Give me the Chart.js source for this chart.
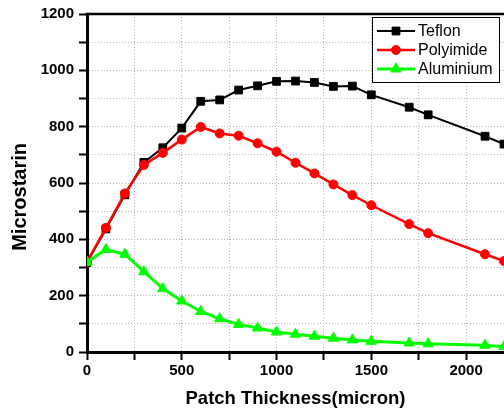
<!DOCTYPE html>
<html>
<head>
<meta charset="utf-8">
<script src="https://cdn.jsdelivr.net/npm/chart.js"></script>
<style>
  html, body { margin: 0; padding: 0; background: #fff; }
  #wrap { width: 504px; height: 414px; position: relative; }
</style>
</head>
<body>
<div id="wrap"><canvas id="chart"></canvas></div>
<script>
// dati
const thickness = [0, 100, 200, 300, 400, 500, 600, 700, 800, 900, 1000, 1100, 1200, 1300, 1400, 1500, 1700, 1800, 2100, 2200];
const teflon = [318, 437, 558, 673, 725, 795, 890, 895, 930, 945, 961, 962, 957, 943, 944, 913, 869, 842, 766, 738];
const polyimide = [320, 441, 563, 664, 707, 754, 799, 776, 768, 741, 711, 672, 634, 595, 557, 521, 454, 422, 347, 323];
const aluminium = [319, 364, 347, 285, 225, 181, 144, 118, 98, 85, 71, 63, 56, 49, 43, 38, 32, 29, 24, 19];

// tacche: etichetta solo sulle principali
const xTickValues = [0, 250, 500, 750, 1000, 1250, 1500, 1750, 2000];
const xTickLabels = ['0', '', '500', '', '1000', '', '1500', '', '2000'];
const yTickValues = [0, 100, 200, 300, 400, 500, 600, 700, 800, 900, 1000, 1100, 1200];
const yTickLabels = ['0', '', '200', '', '400', '', '600', '', '800', '', '1000', '', '1200'];

const toPoints = arr => arr.map((v, i) => ({ x: thickness[i], y: v }));

const FONT = '"Liberation Sans", Arial, sans-serif';

// cornice superiore del riquadro
const framePlugin = {
  id: 'frame',
  afterDraw(chart) {
    const { ctx, chartArea } = chart;
    ctx.save();
    ctx.strokeStyle = '#000';
    ctx.lineWidth = 2.5;
    ctx.beginPath();
    ctx.moveTo(chartArea.left - 1.5, chartArea.top);
    ctx.lineTo(chart.width, chartArea.top);
    ctx.stroke();
    ctx.restore();
  }
};

// legenda con linea + marker, come nell'originale
const drawPoint = Chart.helpers.drawPoint;
const legendPlugin = {
  id: 'lineLegend',
  afterDraw(chart) {
    const { ctx } = chart;
    const box = { x: 372.5, y: 17.5, w: 127, h: 65 };
    ctx.save();
    ctx.fillStyle = '#fff';
    ctx.fillRect(box.x, box.y, box.w, box.h);
    ctx.strokeStyle = '#000';
    ctx.lineWidth = 1;
    ctx.strokeRect(box.x, box.y, box.w, box.h);
    chart.data.datasets.forEach((ds, i) => {
      const y = 31 + i * 19;
      ctx.save();
      ctx.strokeStyle = ds.borderColor;
      ctx.lineWidth = ds.borderWidth;
      ctx.beginPath();
      ctx.moveTo(377, y);
      ctx.lineTo(415, y);
      ctx.stroke();
      ctx.fillStyle = ds.pointBackgroundColor;
      ctx.strokeStyle = ds.pointBorderColor;
      ctx.lineWidth = 1;
      drawPoint(ctx, { pointStyle: ds.pointStyle, radius: ds.pointRadius, borderWidth: 1, rotation: 0 }, 396, y);
      ctx.fillStyle = '#000';
      ctx.font = '16px ' + FONT;
      ctx.textBaseline = 'middle';
      ctx.textAlign = 'left';
      ctx.fillText(ds.label, 418, y + 1);
      ctx.restore();
    });
    ctx.restore();
  }
};

new Chart(document.getElementById('chart'), {
  type: 'line',
  data: {
    datasets: [
      {
        label: 'Teflon',
        data: toPoints(teflon),
        borderColor: '#000000',
        backgroundColor: '#000000',
        pointBackgroundColor: '#000000',
        pointBorderColor: '#000000',
        borderWidth: 2,
        pointStyle: 'rect',
        pointRadius: 5.5,
        pointBorderWidth: 1,
        order: 3
      },
      {
        label: 'Polyimide',
        data: toPoints(polyimide),
        borderColor: '#ff0000',
        backgroundColor: '#ff0000',
        pointBackgroundColor: '#ff0000',
        pointBorderColor: '#ff0000',
        borderWidth: 2.5,
        pointStyle: 'circle',
        pointRadius: 4.5,
        pointBorderWidth: 1,
        order: 2
      },
      {
        label: 'Aluminium',
        data: toPoints(aluminium),
        borderColor: '#00ff00',
        backgroundColor: '#00ff00',
        pointBackgroundColor: '#00ff00',
        pointBorderColor: '#00ff00',
        borderWidth: 3,
        pointStyle: 'triangle',
        pointRadius: 6,
        pointBorderWidth: 1,
        order: 1
      }
    ]
  },
  options: {
    responsive: true,
    maintainAspectRatio: false,
    animation: false,
    layout: { autoPadding: false, padding: { top: 13, right: 0, left: 0, bottom: 0 } },
    plugins: {
      legend: { display: false },
      tooltip: { enabled: false }
    },
    elements: { line: { tension: 0 } },
    scales: {
      x: {
        type: 'linear',
        min: 0,
        max: 2200,
        afterBuildTicks: s => { s.ticks = xTickValues.map(v => ({ value: v })); },
        afterFit: s => { s.height = 62; s.paddingRight = 0; },
        grid: {
          color: '#b4b4b4',
          lineWidth: 1,
          tickColor: '#000',
          tickWidth: 2,
          tickLength: 8
        },
        border: { color: '#000', width: 3, dash: [1, 2] },
        ticks: {
          autoSkip: false,
          maxRotation: 0,
          padding: 2,
          color: '#000',
          font: { family: FONT, size: 15, weight: 'bold' },
          callback: (v, i) => xTickLabels[i]
        },
        title: {
          display: true,
          text: 'Patch Thickness(micron)',
          color: '#000',
          font: { family: FONT, size: 18.5, weight: 'bold' },
          padding: { top: 0, bottom: 4 }
        }
      },
      y: {
        min: 0,
        max: 1200,
        afterBuildTicks: s => { s.ticks = yTickValues.map(v => ({ value: v })); },
        afterFit: s => { s.width = 87; },
        grid: {
          color: '#b4b4b4',
          lineWidth: 1,
          tickColor: '#000',
          tickWidth: 2,
          tickLength: 8
        },
        border: { color: '#000', width: 3, dash: [1, 2] },
        ticks: {
          autoSkip: false,
          padding: 5,
          color: '#000',
          font: { family: FONT, size: 15, weight: 'bold' },
          callback: (v, i) => yTickLabels[i]
        },
        title: {
          display: true,
          text: 'Microstarin\u00a0\u00a0\u00a0\u00a0\u00a0',
          color: '#000',
          font: { family: FONT, size: 20, weight: 'bold' },
          padding: { top: 8, bottom: 0 }
        }
      }
    }
  },
  plugins: [framePlugin, legendPlugin]
});
</script>
</body>
</html>
